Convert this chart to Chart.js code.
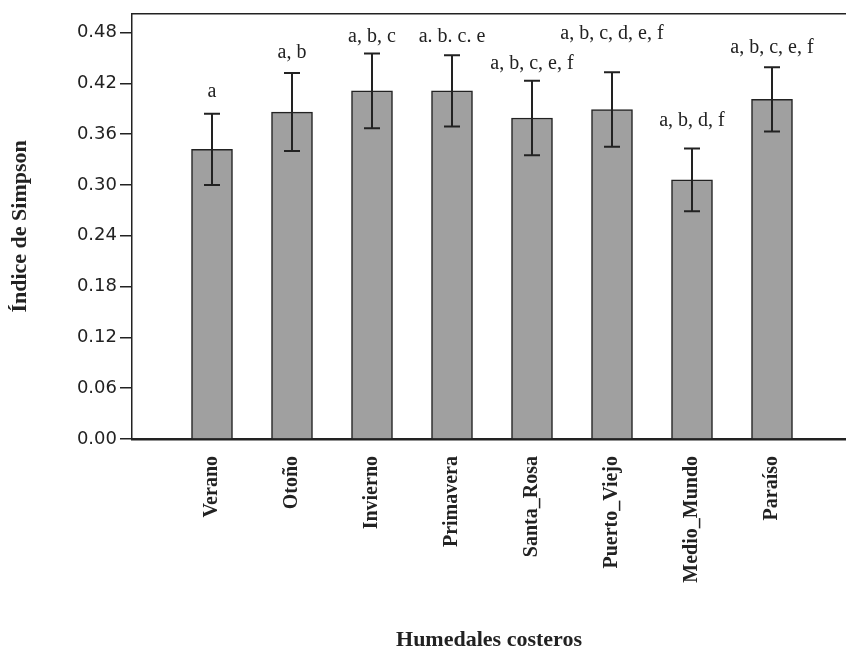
<!DOCTYPE html>
<html>
<head>
<meta charset="utf-8">
<script src="https://cdn.jsdelivr.net/npm/chart.js@4"></script>
<style>
  body { margin: 0; background: #fff; }
  #wrap { width: 846px; height: 651px; }
</style>
</head>
<body>
<div id="wrap"><canvas id="chart"></canvas></div>
<script>
const categories = ['Verano', 'Otoño', 'Invierno', 'Primavera', 'Santa_Rosa', 'Puerto_Viejo', 'Medio_Mundo', 'Paraíso'];
const means = [0.342, 0.386, 0.411, 0.411, 0.379, 0.389, 0.306, 0.401];
const errors = [0.042, 0.046, 0.044, 0.042, 0.044, 0.044, 0.037, 0.038];
const letters = ['a', 'a, b', 'a, b, c', 'a. b. c. e', 'a, b, c, e, f', 'a, b, c, d, e, f', 'a, b, d, f', 'a, b, c, e, f'];
const yTicks = [0, 0.06, 0.12, 0.18, 0.24, 0.30, 0.36, 0.42, 0.48];

const ink = '#222222';

// error bars, significance letters and the top frame line
const extras = {
    id: 'extras',
    afterDatasetsDraw(chart, args, opts) {
        const ctx = chart.ctx;
        const x = chart.scales.x;
        const y = chart.scales.y;
        const area = chart.chartArea;
        ctx.save();
        ctx.strokeStyle = ink;
        ctx.lineWidth = 1.5;
        ctx.beginPath();
        ctx.moveTo(area.left, area.top);
        ctx.lineTo(area.right, area.top);
        ctx.stroke();

        ctx.lineWidth = 2;
        ctx.font = '20px "Liberation Serif"';
        ctx.fillStyle = ink;
        ctx.textAlign = 'center';
        ctx.textBaseline = 'alphabetic';
        means.forEach((m, i) => {
            const px = x.getPixelForValue(i + 1);
            const top = y.getPixelForValue(m + errors[i]);
            const bot = y.getPixelForValue(m - errors[i]);
            ctx.beginPath();
            ctx.moveTo(px, top);
            ctx.lineTo(px, bot);
            ctx.moveTo(px - 8, top);
            ctx.lineTo(px + 8, top);
            ctx.moveTo(px - 8, bot);
            ctx.lineTo(px + 8, bot);
            ctx.stroke();
            ctx.fillText(letters[i], px, top - opts.lift[i]);
        });
        ctx.restore();
    }
};

new Chart(document.getElementById('chart'), {
    type: 'bar',
    data: {
        datasets: [{
            data: means.map((v, i) => ({ x: i + 1, y: v })),
            backgroundColor: '#a0a0a0',
            borderColor: ink,
            borderWidth: 1.5,
            barThickness: 41
        }]
    },
    options: {
        responsive: true,
        maintainAspectRatio: false,
        animation: false,
        layout: { padding: { top: 7, right: 0, left: 0, bottom: 0 } },
        plugins: {
            legend: { display: false },
            tooltip: { enabled: false },
            extras: { lift: [17, 15, 12, 13, 12, 33, 22, 14] }
        },
        scales: {
            x: {
                type: 'linear',
                offset: false,
                min: 0,
                max: 8.925,
                afterBuildTicks: s => { s.ticks = categories.map((c, i) => ({ value: i + 1 })); },
                afterFit: s => { s.height = 212; },
                grid: { display: false },
                border: { display: true, color: ink, width: 2.5 },
                ticks: {
                    minRotation: 90,
                    maxRotation: 90,
                    padding: 9,
                    autoSkip: false,
                    color: ink,
                    font: { family: '"Liberation Serif"', size: 20, weight: 'bold' },
                    callback: v => categories[v - 1] || ''
                },
                title: {
                    display: true,
                    text: 'Humedales costeros',
                    color: ink,
                    padding: { top: 0, bottom: 0 },
                    font: { family: '"Liberation Serif"', size: 22, weight: 'bold', lineHeight: 1 }
                }
            },
            y: {
                min: 0,
                max: 0.502,
                afterBuildTicks: s => { s.ticks = yTicks.map(v => ({ value: v })); },
                afterFit: s => { s.width = 132; },
                grid: { drawOnChartArea: false, drawTicks: true, tickLength: 12, color: ink, lineWidth: 1.5 },
                border: { display: true, color: ink, width: 1.5 },
                ticks: {
                    padding: 3,
                    color: ink,
                    font: { family: '"DejaVu Sans"', size: 18 },
                    callback: v => v.toFixed(2)
                },
                title: {
                    display: true,
                    text: 'Índice de Simpson',
                    color: ink,
                    padding: { top: 9, bottom: 0 },
                    font: { family: '"Liberation Serif"', size: 22, weight: 'bold', lineHeight: 1 }
                }
            }
        }
    },
    plugins: [extras]
});
</script>
</body>
</html>
